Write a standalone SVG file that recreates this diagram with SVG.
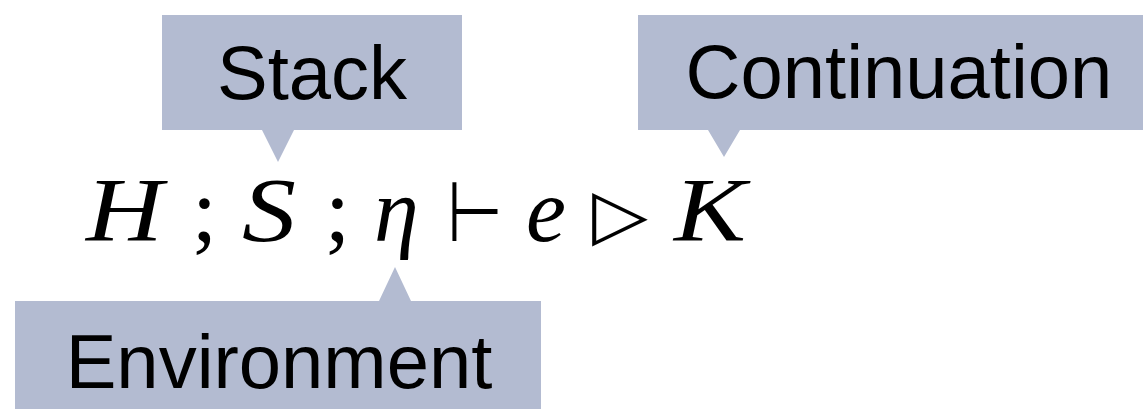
<svg xmlns="http://www.w3.org/2000/svg" width="1143" height="409" viewBox="0 0 1143 409">
<style>
.box{fill:#b3bbd1}
.lbl{font-family:"Liberation Sans",Arial,sans-serif;font-size:76px;fill:#000}
.m{font-family:"Liberation Serif","DejaVu Serif",serif;font-style:italic;font-size:90px;fill:#000}
.p{font-family:"Liberation Serif","DejaVu Serif",serif;font-size:90px;fill:#000}
.s{font-family:"DejaVu Sans",sans-serif;fill:#000}
</style>
<rect width="1143" height="409" fill="#fff"/>
<g id="stack">
<path class="box" d="M162,15 H462 V130 H294 L278,162 L262,130 H162 Z"/>
<text class="lbl" x="312" y="99" text-anchor="middle">Stack</text>
</g>
<g id="continuation">
<path class="box" d="M638,15 H1143 V130 H740 L724,157 L708,130 H638 Z"/>
<text class="lbl" x="899" y="98" text-anchor="middle">Continuation</text>
</g>
<g id="environment">
<path class="box" d="M15,301 H379 L395,267 L411,301 H541 V409 H15 Z"/>
<text class="lbl" x="279" y="388" text-anchor="middle">Environment</text>
</g>
<g id="formula">
<text class="m" x="86" y="241" textLength="77" lengthAdjust="spacingAndGlyphs">H</text>
<text class="p" x="192" y="241">;</text>
<text class="m" x="242" y="241" textLength="54" lengthAdjust="spacingAndGlyphs">S</text>
<text class="p" x="325" y="241">;</text>
<text class="m" x="374" y="241">η</text>
<text class="s" x="447" y="241" font-size="84" textLength="56" lengthAdjust="spacingAndGlyphs">⊢</text>
<text class="m" x="526" y="241">e</text>
<text class="s" x="592" y="238" font-size="70" textLength="56" lengthAdjust="spacingAndGlyphs">▷</text>
<text class="m" x="674" y="241" textLength="72" lengthAdjust="spacingAndGlyphs">K</text>
</g>
<g id="connectors"/>
</svg>
